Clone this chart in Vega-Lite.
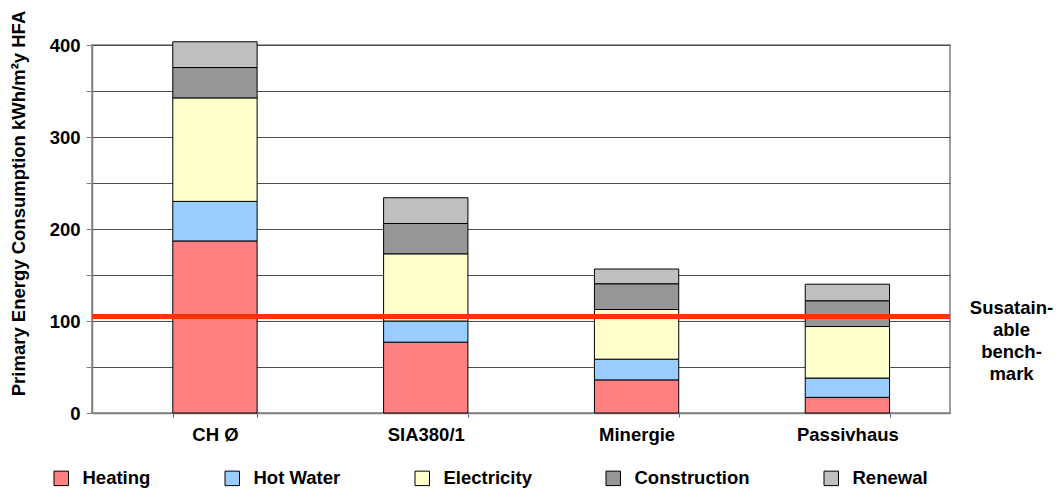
{
  "$schema": "https://vega.github.io/schema/vega-lite/v6.json",
  "autosize": "none",
  "width": 858,
  "height": 368,
  "padding": {"left": 92, "top": 45, "right": 114, "bottom": 75},
  "background": "white",
  "config": {
    "font": "Liberation Sans",
    "view": {"stroke": "#808080", "strokeWidth": 1.5},
    "axis": {"labelFont": "Liberation Sans", "titleFont": "Liberation Sans", "labelFontWeight": "bold", "titleFontWeight": "bold", "labelColor": "black", "titleColor": "black"}
  },
  "data": {"values": [
    {"building": "CH Ø", "use": "Heating", "k": 1, "value": 187},
    {"building": "CH Ø", "use": "Hot Water", "k": 2, "value": 43},
    {"building": "CH Ø", "use": "Electricity", "k": 3, "value": 112.5},
    {"building": "CH Ø", "use": "Construction", "k": 4, "value": 33},
    {"building": "CH Ø", "use": "Renewal", "k": 5, "value": 28},
    {"building": "SIA380/1", "use": "Heating", "k": 1, "value": 77},
    {"building": "SIA380/1", "use": "Hot Water", "k": 2, "value": 23},
    {"building": "SIA380/1", "use": "Electricity", "k": 3, "value": 73},
    {"building": "SIA380/1", "use": "Construction", "k": 4, "value": 33},
    {"building": "SIA380/1", "use": "Renewal", "k": 5, "value": 28},
    {"building": "Minergie", "use": "Heating", "k": 1, "value": 36},
    {"building": "Minergie", "use": "Hot Water", "k": 2, "value": 22.5},
    {"building": "Minergie", "use": "Electricity", "k": 3, "value": 54},
    {"building": "Minergie", "use": "Construction", "k": 4, "value": 28},
    {"building": "Minergie", "use": "Renewal", "k": 5, "value": 16},
    {"building": "Passivhaus", "use": "Heating", "k": 1, "value": 17},
    {"building": "Passivhaus", "use": "Hot Water", "k": 2, "value": 21},
    {"building": "Passivhaus", "use": "Electricity", "k": 3, "value": 56},
    {"building": "Passivhaus", "use": "Construction", "k": 4, "value": 28},
    {"building": "Passivhaus", "use": "Renewal", "k": 5, "value": 18}
  ]},
  "layer": [
    {
      "mark": {"type": "bar", "stroke": "black", "strokeWidth": 1},
      "encoding": {
        "x": {
          "field": "building", "type": "nominal", "sort": ["CH Ø", "SIA380/1", "Minergie", "Passivhaus"],
          "scale": {"paddingInner": 0.6, "paddingOuter": 0.335, "align": 0.572},
          "axis": {"title": null, "labelAngle": 0, "labelFontSize": 18.5, "labelPadding": 8, "tickBand": "extent", "ticks": true, "tickSize": 4, "tickColor": "#5a5aa0", "domainColor": "#808080", "domainWidth": 1.5}
        },
        "y": {
          "field": "value", "type": "quantitative", "stack": "zero",
          "scale": {"domain": [0, 400], "nice": false},
          "axis": {"title": "Primary Energy Consumption kWh/m²y HFA", "titleFontSize": 18.5, "titleX": -74, "titleY": 158, "titleAngle": -90, "titleAlign": "center", "titleBaseline": "middle",
            "values": [0, 50, 100, 150, 200, 250, 300, 350, 400], "labelExpr": "datum.value % 100 == 0 ? datum.label : ''",
            "labelFontSize": 18.5, "labelPadding": 6, "tickSize": 6, "tickColor": "#808080", "domainColor": "#808080", "domainWidth": 1.5,
            "grid": true, "gridColor": "#4d4d4d", "gridWidth": 1}
        },
        "color": {
          "field": "use", "type": "nominal",
          "scale": {"domain": ["Heating", "Hot Water", "Electricity", "Construction", "Renewal"], "range": ["#FF8080", "#99CCFF", "#FFFFCC", "#969696", "#C0C0C0"]},
          "legend": {"title": null, "orient": "none", "legendX": -40, "legendY": 424, "direction": "horizontal", "columns": 5, "columnPadding": 72,
            "symbolType": "square", "symbolSize": 210, "symbolStrokeColor": "black", "symbolStrokeWidth": 1, "symbolOpacity": 1,
            "labelFontSize": 18.5, "labelFontWeight": "bold", "labelColor": "black", "labelFont": "Liberation Sans", "labelOffset": 12}
        },
        "order": {"field": "k", "type": "quantitative"}
      }
    },
    {
      "mark": {"type": "rule", "color": "#FF3300", "strokeWidth": 4.5},
      "encoding": {
        "y": {"datum": 105, "type": "quantitative",
          "axis": {"orient": "right", "title": null, "values": [105], "grid": false, "ticks": false, "domain": false,
            "labelExpr": "['Susatain-', 'able', 'bench-', 'mark']", "labelAlign": "center", "labelBaseline": "middle",
            "labelPadding": 61, "labelOffset": -9, "labelFontSize": 18.5, "labelLineHeight": 22}
        }
      }
    }
  ],
  "resolve": {"axis": {"y": "independent"}}
}
